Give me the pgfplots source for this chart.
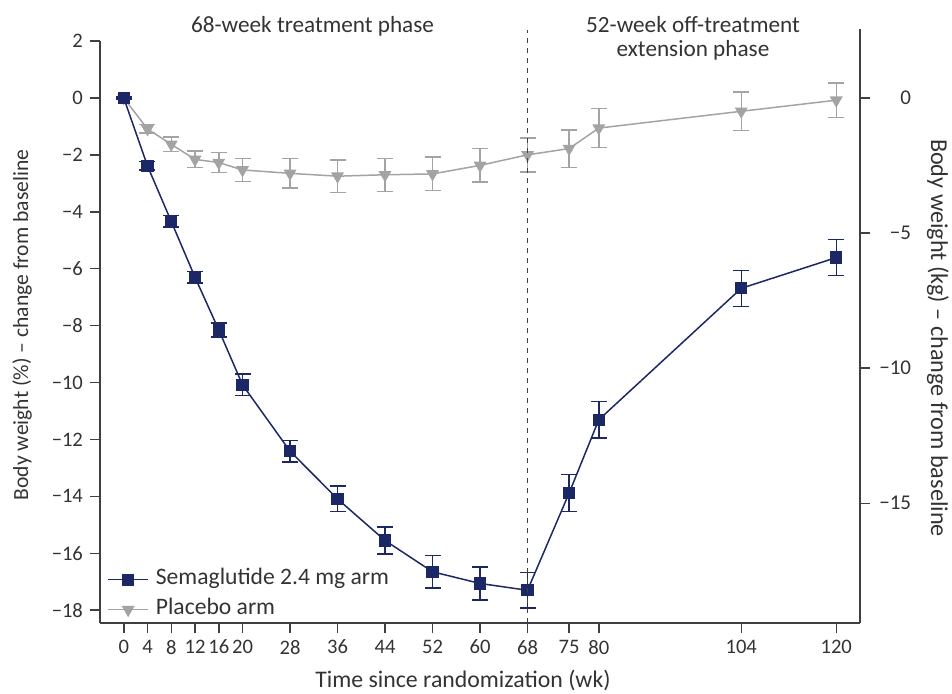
\documentclass[border=0pt]{standalone}
\usepackage{pgfplots}
\pgfplotsset{compat=1.18}
\usepackage{fontspec}
\setmainfont{Carlito}
\definecolor{sema}{HTML}{1C2766}
\definecolor{plac}{HTML}{A3A3A3}
\definecolor{axc}{HTML}{404040}
\definecolor{txt}{HTML}{333333}

\begin{document}
\begin{tikzpicture}[font=\fontsize{11.6}{13}\selectfont, text=txt]
\begin{axis}[
  at={(0,0)}, anchor=south west, scale only axis,
  width=380pt, height=291pt,
  xmin=-4, xmax=124, ymin=-18.45, ymax=2,
  axis x line*=bottom, axis y line*=left,
  axis line style={-, axc, line width=0.75pt},
  tick style={axc, line width=0.75pt},
  tick align=outside, major tick length=5pt,
  xtick={0,4,8,12,16,20,28,36,44,52,60,68,75,80,104,120},
  ytick={-18,-16,-14,-12,-10,-8,-6,-4,-2,0,2},
  yticklabels={−18,−16,−14,−12,−10,−8,−6,−4,−2,0,2},
  ticklabel style={font=\fontsize{10.3}{11}\selectfont, text=txt},
  /pgf/number format/assume math mode=true,
  clip=false,
  reverse legend,
  legend image code/.code={\draw[mark repeat=2, mark phase=2, #1] plot coordinates {(0pt,0pt) (10pt,0pt) (20pt,0pt)};},
  legend style={draw=none, fill=none, inner sep=0pt, anchor=south west, at={(0.0092,0.005)},
    nodes={inner sep=0pt, text height=7.5pt, text depth=2.5pt, font=\fontsize{11.8}{13}\selectfont, text=txt},
    row sep=5pt, column sep=3.5pt},
  legend cell align=left,
]
\addplot[plac, line width=0.75pt, mark=triangle*, mark size=3pt,
  mark options={rotate=180, fill=plac, draw=plac},
  error bars/.cd, y dir=both, y explicit,
  error bar style={line width=0.75pt, plac},
  error mark options={rotate=90, mark size=4pt, line width=0.75pt, plac}]
coordinates {
(0,0) +- (0,0.04)
(4,-1.09) +- (0,0.15)
(8,-1.63) +- (0,0.25)
(12,-2.16) +- (0,0.29)
(16,-2.27) +- (0,0.35)
(20,-2.53) +- (0,0.40)
(28,-2.65) +- (0,0.52)
(36,-2.75) +- (0,0.57)
(44,-2.70) +- (0,0.58)
(52,-2.67) +- (0,0.59)
(60,-2.37) +- (0,0.59)
(68,-2.00) +- (0,0.60)
(75,-1.78) +- (0,0.66)
(80,-1.06) +- (0,0.69)
(104,-0.47) +- (0,0.67)
(120,-0.08) +- (0,0.60)
};
\addlegendentry{Placebo arm}
\addplot[sema, line width=0.75pt, mark=square*, mark size=2.7pt,
  mark options={fill=sema, draw=sema},
  error bars/.cd, y dir=both, y explicit,
  error bar style={line width=0.75pt, sema},
  error mark options={rotate=90, mark size=4pt, line width=0.75pt, sema}]
coordinates {
(0,0) +- (0,0.04)
(4,-2.39) +- (0,0.15)
(8,-4.34) +- (0,0.20)
(12,-6.30) +- (0,0.20)
(16,-8.15) +- (0,0.25)
(20,-10.08) +- (0,0.38)
(28,-12.41) +- (0,0.38)
(36,-14.09) +- (0,0.45)
(44,-15.55) +- (0,0.47)
(52,-16.65) +- (0,0.57)
(60,-17.06) +- (0,0.58)
(68,-17.30) +- (0,0.62)
(75,-13.89) +- (0,0.65)
(80,-11.31) +- (0,0.64)
(104,-6.69) +- (0,0.63)
(120,-5.61) +- (0,0.63)
};
\addlegendentry{Semaglutide 2.4 mg arm}
\end{axis}
\begin{axis}[
  at={(0,0)}, anchor=south west, scale only axis,
  width=380pt, height=297pt,
  xmin=-4, xmax=124, ymin=-19.43, ymax=2.55,
  axis x line=none, axis y line*=right,
  axis line style={-, axc, line width=0.75pt},
  tick style={axc, line width=0.75pt},
  tick align=outside, major tick length=5pt,
  ytick={-15,-10,-5,0},
  yticklabels={−15,−10,−5,0},
  yticklabel style={font=\fontsize{10.5}{11}\selectfont, text=txt, text width=17pt, align=right},
  clip=false,
]
\draw[axc, line width=0.6pt, dash pattern=on 2.5pt off 2.5pt] (axis cs:68,-19.43) -- (axis cs:68,2.52);
\end{axis}
\node at (106.25pt,298.5pt) {68-week treatment phase};
\node[align=center, font=\fontsize{11.6}{12}\selectfont] at (296.5pt,292.5pt) {52-week off-treatment\\extension phase};
\node[anchor=base, font=\fontsize{11.9}{13}\selectfont] at (181.5pt,-32pt) {Time since randomization (wk)};
\node[rotate=90, font=\fontsize{10.8}{12}\selectfont] at (-39pt,149pt) {Body weight (\%) – change from baseline};
\node[rotate=-90, font=\fontsize{12.1}{13}\selectfont] at (419pt,142.5pt) {Body weight (kg) – change from baseline};
\pgfresetboundingbox
\path[use as bounding box] (-50pt,-35pt) rectangle (426pt,311.5pt);
\end{tikzpicture}
\end{document}
